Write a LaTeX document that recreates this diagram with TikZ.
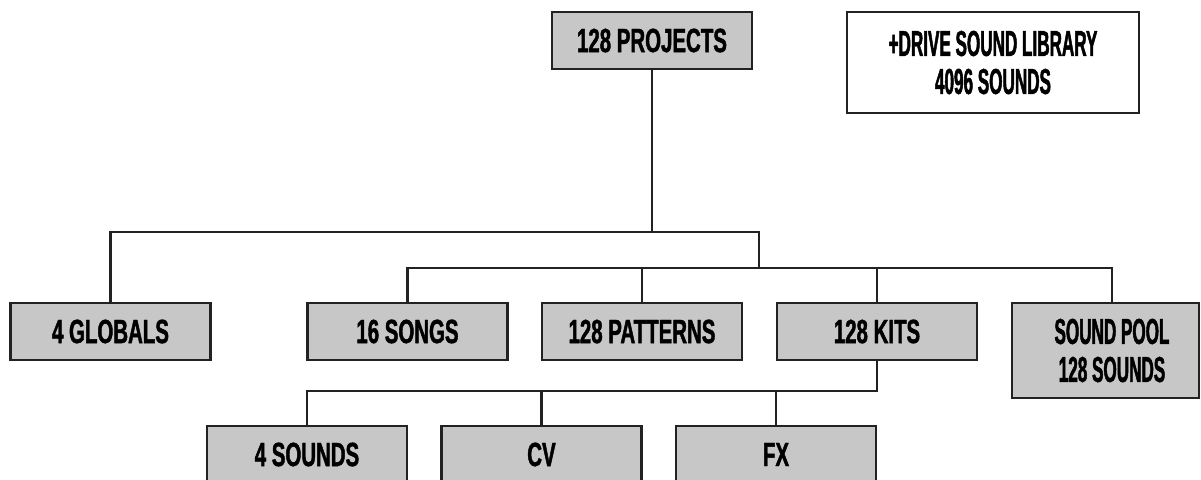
\documentclass[tikz,border=0pt]{standalone}
\usepackage{fontspec}
\newfontfamily\mainboxfont{Liberation Sans}[FakeStretch=0.61,FakeBold=1.3]
\newfontfamily\tallboxfont{Liberation Sans}[FakeStretch=0.475,FakeBold=1.3]
\definecolor{boxgray}{RGB}{199,199,199}
\definecolor{inkline}{RGB}{34,34,34}
\tikzset{
  box/.style={draw=inkline, line width=2.8pt, fill=boxgray, minimum width=200pt, minimum height=57pt,
    inner sep=0pt, font={\mainboxfont\bfseries\fontsize{33.5}{36}\selectfont}, text=black},
  tallbox/.style={box, align=center, font={\tallboxfont\bfseries\fontsize{36}{38}\selectfont}},
  conn/.style={draw=inkline, line width=2.8pt, line join=miter, line cap=rect},
}
\begin{document}
\begin{tikzpicture}[x=1pt, y=-1pt]
\useasboundingbox (0,0) rectangle (1201,479);
\clip (0,0) rectangle (1201,479);
\fill[white] (0,0) rectangle (1201,479);
% connector junctions
\coordinate (busA) at (759,232);
\coordinate (busB) at (759,268);
\coordinate (busC) at (877,391);
\coordinate (poolTop) at (1112,303);
% nodes
\node[box] (proj) at (652,40.5) {128 PROJECTS};
\node[tallbox, fill=white, minimum width=292pt, minimum height=101pt] (drive) at (993,62.5) {+DRIVE SOUND LIBRARY\\4096 SOUNDS};
\node[box] (glob) at (110.5,331.5) {4 GLOBALS};
\node[box] (songs) at (407.5,331.5) {16 SONGS};
\node[box] (patt) at (642,331.5) {128 PATTERNS};
\node[box] (kits) at (877,331.5) {128 KITS};
\node[tallbox, minimum width=187pt, minimum height=95pt] (pool) at (1105.5,350.5) {\hspace*{13pt}SOUND POOL\\\hspace*{13pt}128 SOUNDS};
\node[box] (snd) at (307,454.5) {4 SOUNDS};
\node[box] (cv) at (541.5,454.5) {CV};
\node[box] (fx) at (776,454.5) {FX};
% connectors
\draw[conn] (proj.south) -- (proj.south |- busA);
\draw[conn] (glob.north) |- (busA) -- (busB);
\draw[conn] (songs.north) |- (poolTop |- busB) -- (poolTop);
\draw[conn] (patt.north) -- (patt.north |- busB);
\draw[conn] (kits.north) -- (kits.north |- busB);
\draw[conn] (kits.south) -- (busC) -| (snd.north);
\draw[conn] (cv.north) -- (cv.north |- busC);
\draw[conn] (fx.north) -- (fx.north |- busC);
\end{tikzpicture}
\end{document}
